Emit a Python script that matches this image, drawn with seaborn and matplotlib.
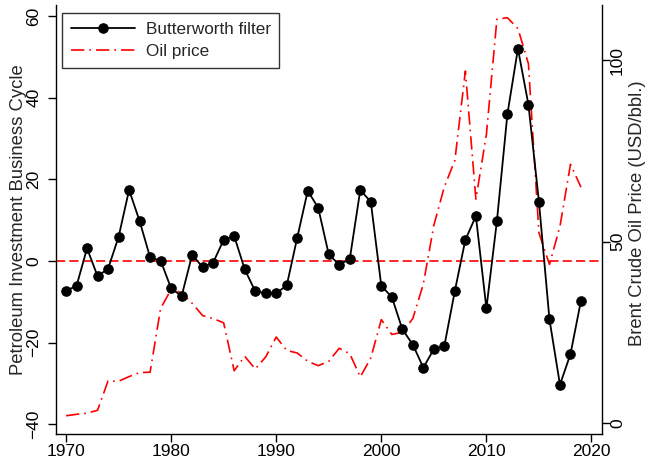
import matplotlib
matplotlib.use("Agg")
import matplotlib.pyplot as plt
from matplotlib.lines import Line2D
import seaborn as sns
import pandas as pd

years = list(range(1970, 2020))

butterworth = [-7.3, -6.1, 3.1, -3.7, -1.9, 5.9, 17.4, 9.8, 0.9, 0.1,
               -6.7, -8.6, 1.5, -1.5, -0.4, 5.2, 6.1, -2.0, -7.4, -7.9,
               -7.9, -6.0, 5.7, 17.2, 13.0, 1.6, -0.9, 0.5, 17.4, 14.5,
               -6.1, -8.8, -16.7, -20.5, -26.1, -21.6, -20.8, -7.3, 5.2, 11.0,
               -11.6, 9.8, 36.0, 52.0, 38.3, 14.5, -14.3, -30.3, -22.8, -9.7]

oil_price = [2.0, 2.4, 2.7, 3.5, 11.6, 11.5, 12.8, 13.9, 14.0, 31.6,
             36.8, 35.9, 33.0, 29.6, 28.8, 27.6, 14.4, 18.4, 14.9, 18.2,
             23.7, 20.0, 19.3, 17.0, 15.8, 17.0, 20.6, 19.1, 12.7, 17.9,
             28.5, 24.4, 25.0, 28.8, 38.3, 54.5, 65.1, 72.4, 97.0, 61.7,
             79.5, 111.3, 111.7, 108.7, 99.0, 52.4, 43.7, 54.2, 71.3, 65.0]

left_ticks = [-40, -20, 0, 20, 40, 60]
right_ticks = [0, 50, 100]
x_ticks = [1970, 1980, 1990, 2000, 2010, 2020]

df = pd.DataFrame({"year": years, "bw": butterworth, "oil": oil_price})

sns.set_style("ticks")
plt.rcParams["font.family"] = ["Liberation Sans", "DejaVu Sans"]
plt.rcParams["axes.edgecolor"] = "black"
plt.rcParams["xtick.color"] = "black"
plt.rcParams["ytick.color"] = "black"

fig = plt.figure(figsize=(6.48, 4.59), dpi=100)
ax = fig.add_axes([0.086, 0.0551, 0.8435, 0.934])
ax2 = ax.twinx()

ax.axhline(0, color="red", lw=1.2, ls=(0, (5.5, 2.5)), zorder=1)
sns.lineplot(data=df, x="year", y="oil", ax=ax2, color="red", lw=1.2,
             linestyle=(0, (8, 3, 1, 3)), legend=False)
sns.lineplot(data=df, x="year", y="bw", ax=ax, color="black", lw=1.3,
             marker="o", markersize=6.8, markeredgewidth=0.8,
             markeredgecolor="black", markerfacecolor="black", legend=False)

ax.set_zorder(ax2.get_zorder() + 1)
ax.patch.set_visible(False)

ax.set_xlim(1969.02, 2021.03)
ax.set_ylim(-42.3, 62.7)
ax2.set_ylim(-2.95, 115.2)
ax.set_xticks(x_ticks)
ax.set_yticks(left_ticks)
ax2.set_yticks(right_ticks)
ax.set_xlabel("")
ax.set_ylabel("Petroleum Investment Business Cycle", fontsize=13.3)
ax2.set_ylabel("Brent Crude Oil Price (USD/bbl.)", fontsize=13.3, rotation=90)
ax.yaxis.set_label_coords(-0.052, 0.5)
ax2.yaxis.set_label_coords(1.048, 0.515)

for a in (ax, ax2):
    a.spines["top"].set_visible(False)
ax.spines["right"].set_visible(False)
ax2.spines["left"].set_visible(False)
ax2.spines["bottom"].set_visible(False)
for a in (ax, ax2):
    for s in a.spines.values():
        s.set_linewidth(1.0)

ax.tick_params(axis="both", direction="out", length=5.5, width=1.0,
               labelsize=12.5)
ax.tick_params(axis="x", pad=2)
ax.tick_params(axis="y", pad=5)
ax2.tick_params(axis="y", direction="out", length=5.5, width=1.0,
                labelsize=12.5, pad=0)
for t in ax.get_yticklabels():
    t.set_rotation(90)
    t.set_va("center")
for t in ax2.get_yticklabels():
    t.set_rotation(90)
    t.set_va("center")

handles = [
    Line2D([], [], color="black", lw=1.3, marker="o", markersize=6.8,
           markeredgewidth=0.8),
    Line2D([], [], color="red", lw=1.2, linestyle=(0, (8, 3, 1, 3))),
]
leg = ax.legend(handles, ["Butterworth filter", "Oil price"], loc="upper left",
                bbox_to_anchor=(0.0115, 0.981), fontsize=12.3, frameon=True,
                fancybox=False, edgecolor="black", handlelength=3.75,
                borderpad=0.5, labelspacing=0.45, handletextpad=0.64,
                borderaxespad=0)
leg.get_frame().set_linewidth(1.0)

fig.savefig("out.png", dpi=100)
